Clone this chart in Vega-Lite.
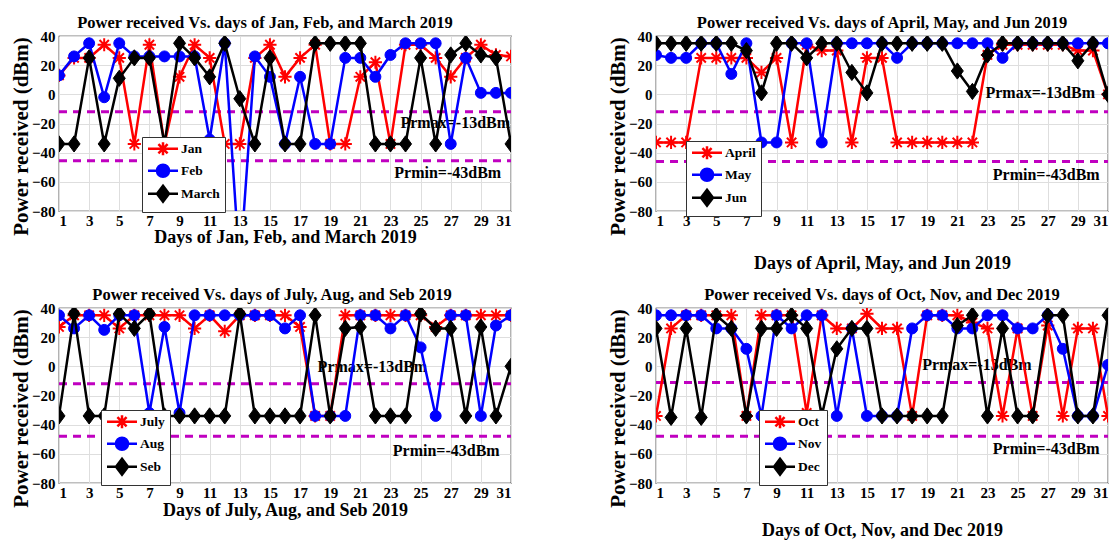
{
  "$schema": "https://vega.github.io/schema/vega-lite/v6.json",
  "background": "#FFFFFF",
  "padding": {"left": 9, "top": 13, "right": 2, "bottom": 2},
  "columns": 2,
  "spacing": {"row": 12, "column": 92},
  "resolve": {"scale": {"color": "independent"}},
  "datasets": {
    "t1": [{"day": 1, "day2": 31, "power": -12}, {"day": 1, "day2": 31, "power": -45.5}],
    "t2": [{"day": 1, "day2": 31, "power": -12}, {"day": 1, "day2": 31, "power": -46}],
    "t3": [{"day": 1, "day2": 31, "power": -12}, {"day": 1, "day2": 31, "power": -48}],
    "t4": [{"day": 1, "day2": 31, "power": -11}, {"day": 1, "day2": 31, "power": -48}],
    "a1": [{"day": 27.3, "power": -19.5, "label": "Prmax=-13dBm"}, {"day": 26.8, "power": -54, "label": "Prmin=-43dBm"}],
    "a2": [{"day": 26.5, "power": 1, "label": "Prmax=-13dBm"}, {"day": 26.9, "power": -55, "label": "Prmin=-43dBm"}],
    "a3": [{"day": 21.8, "power": -0.5, "label": "Prmax=-13dBm"}, {"day": 26.7, "power": -58, "label": "Prmin=-43dBm"}],
    "a4": [{"day": 22.3, "power": 0.7, "label": "Prmax=-13dBm"}, {"day": 26.9, "power": -56.5, "label": "Prmin=-43dBm"}],
    "p1": [
      {"day":1,"month":"Jan","power":13},{"day":2,"month":"Jan","power":25},{"day":3,"month":"Jan","power":25},{"day":4,"month":"Jan","power":34},{"day":5,"month":"Jan","power":25},{"day":6,"month":"Jan","power":-34},{"day":7,"month":"Jan","power":34},{"day":8,"month":"Jan","power":-34},{"day":9,"month":"Jan","power":12},{"day":10,"month":"Jan","power":34},{"day":11,"month":"Jan","power":25},{"day":12,"month":"Jan","power":-34},{"day":13,"month":"Jan","power":-34},{"day":14,"month":"Jan","power":25},{"day":15,"month":"Jan","power":34},{"day":16,"month":"Jan","power":12},{"day":17,"month":"Jan","power":25},{"day":18,"month":"Jan","power":34},{"day":19,"month":"Jan","power":-34},{"day":20,"month":"Jan","power":-34},{"day":21,"month":"Jan","power":12},{"day":22,"month":"Jan","power":22},{"day":23,"month":"Jan","power":-34},{"day":24,"month":"Jan","power":34},{"day":25,"month":"Jan","power":34},{"day":26,"month":"Jan","power":25},{"day":27,"month":"Jan","power":12},{"day":28,"month":"Jan","power":25},{"day":29,"month":"Jan","power":34},{"day":30,"month":"Jan","power":27},{"day":31,"month":"Jan","power":26},
      {"day":1,"month":"Feb","power":13},{"day":2,"month":"Feb","power":26},{"day":3,"month":"Feb","power":35},{"day":4,"month":"Feb","power":-2},{"day":5,"month":"Feb","power":35},{"day":6,"month":"Feb","power":26},{"day":7,"month":"Feb","power":26},{"day":8,"month":"Feb","power":26},{"day":9,"month":"Feb","power":26},{"day":10,"month":"Feb","power":26},{"day":11,"month":"Feb","power":-31},{"day":12,"month":"Feb","power":35},{"day":13,"month":"Feb","power":-120},{"day":14,"month":"Feb","power":26},{"day":15,"month":"Feb","power":12},{"day":16,"month":"Feb","power":-34},{"day":17,"month":"Feb","power":12},{"day":18,"month":"Feb","power":-34},{"day":19,"month":"Feb","power":-34},{"day":20,"month":"Feb","power":25},{"day":21,"month":"Feb","power":25},{"day":22,"month":"Feb","power":12},{"day":23,"month":"Feb","power":27},{"day":24,"month":"Feb","power":35},{"day":25,"month":"Feb","power":35},{"day":26,"month":"Feb","power":35},{"day":27,"month":"Feb","power":-34},{"day":28,"month":"Feb","power":25},{"day":29,"month":"Feb","power":1},{"day":30,"month":"Feb","power":1},{"day":31,"month":"Feb","power":1},
      {"day":1,"month":"March","power":-34},{"day":2,"month":"March","power":-34},{"day":3,"month":"March","power":25},{"day":4,"month":"March","power":-34},{"day":5,"month":"March","power":11},{"day":6,"month":"March","power":25},{"day":7,"month":"March","power":25},{"day":8,"month":"March","power":-34},{"day":9,"month":"March","power":35},{"day":10,"month":"March","power":25},{"day":11,"month":"March","power":12},{"day":12,"month":"March","power":35},{"day":13,"month":"March","power":-3},{"day":14,"month":"March","power":-34},{"day":15,"month":"March","power":25},{"day":16,"month":"March","power":-34},{"day":17,"month":"March","power":-34},{"day":18,"month":"March","power":35},{"day":19,"month":"March","power":35},{"day":20,"month":"March","power":35},{"day":21,"month":"March","power":35},{"day":22,"month":"March","power":-34},{"day":23,"month":"March","power":-34},{"day":24,"month":"March","power":-34},{"day":25,"month":"March","power":25},{"day":26,"month":"March","power":-34},{"day":27,"month":"March","power":27},{"day":28,"month":"March","power":35},{"day":29,"month":"March","power":27},{"day":30,"month":"March","power":25},{"day":31,"month":"March","power":-34}
    ],
    "p2": [
      {"day":1,"month":"April","power":-33},{"day":2,"month":"April","power":-33},{"day":3,"month":"April","power":-33},{"day":4,"month":"April","power":25},{"day":5,"month":"April","power":25},{"day":6,"month":"April","power":25},{"day":7,"month":"April","power":25},{"day":8,"month":"April","power":15},{"day":9,"month":"April","power":25},{"day":10,"month":"April","power":-33},{"day":11,"month":"April","power":34},{"day":12,"month":"April","power":30},{"day":13,"month":"April","power":30},{"day":14,"month":"April","power":-33},{"day":15,"month":"April","power":25},{"day":16,"month":"April","power":25},{"day":17,"month":"April","power":-33},{"day":18,"month":"April","power":-33},{"day":19,"month":"April","power":-33},{"day":20,"month":"April","power":-33},{"day":21,"month":"April","power":-33},{"day":22,"month":"April","power":-33},{"day":23,"month":"April","power":27},{"day":24,"month":"April","power":34},{"day":25,"month":"April","power":34},{"day":26,"month":"April","power":34},{"day":27,"month":"April","power":34},{"day":28,"month":"April","power":34},{"day":29,"month":"April","power":30},{"day":30,"month":"April","power":30},{"day":31,"month":"April","power":0},
      {"day":1,"month":"May","power":27},{"day":2,"month":"May","power":25},{"day":3,"month":"May","power":25},{"day":4,"month":"May","power":35},{"day":5,"month":"May","power":35},{"day":6,"month":"May","power":14},{"day":7,"month":"May","power":35},{"day":8,"month":"May","power":-33},{"day":9,"month":"May","power":-33},{"day":10,"month":"May","power":35},{"day":11,"month":"May","power":35},{"day":12,"month":"May","power":-33},{"day":13,"month":"May","power":35},{"day":14,"month":"May","power":35},{"day":15,"month":"May","power":35},{"day":16,"month":"May","power":35},{"day":17,"month":"May","power":25},{"day":18,"month":"May","power":35},{"day":19,"month":"May","power":35},{"day":20,"month":"May","power":35},{"day":21,"month":"May","power":35},{"day":22,"month":"May","power":35},{"day":23,"month":"May","power":35},{"day":24,"month":"May","power":25},{"day":25,"month":"May","power":35},{"day":26,"month":"May","power":35},{"day":27,"month":"May","power":35},{"day":28,"month":"May","power":35},{"day":29,"month":"May","power":35},{"day":30,"month":"May","power":35},{"day":31,"month":"May","power":35},
      {"day":1,"month":"Jun","power":35},{"day":2,"month":"Jun","power":35},{"day":3,"month":"Jun","power":35},{"day":4,"month":"Jun","power":35},{"day":5,"month":"Jun","power":35},{"day":6,"month":"Jun","power":35},{"day":7,"month":"Jun","power":30},{"day":8,"month":"Jun","power":1},{"day":9,"month":"Jun","power":35},{"day":10,"month":"Jun","power":35},{"day":11,"month":"Jun","power":25},{"day":12,"month":"Jun","power":35},{"day":13,"month":"Jun","power":35},{"day":14,"month":"Jun","power":15},{"day":15,"month":"Jun","power":1},{"day":16,"month":"Jun","power":35},{"day":17,"month":"Jun","power":35},{"day":18,"month":"Jun","power":35},{"day":19,"month":"Jun","power":35},{"day":20,"month":"Jun","power":35},{"day":21,"month":"Jun","power":16},{"day":22,"month":"Jun","power":2},{"day":23,"month":"Jun","power":27},{"day":24,"month":"Jun","power":35},{"day":25,"month":"Jun","power":35},{"day":26,"month":"Jun","power":35},{"day":27,"month":"Jun","power":35},{"day":28,"month":"Jun","power":35},{"day":29,"month":"Jun","power":23},{"day":30,"month":"Jun","power":35},{"day":31,"month":"Jun","power":0}
    ],
    "p3": [
      {"day":1,"month":"July","power":27},{"day":2,"month":"July","power":35},{"day":3,"month":"July","power":35},{"day":4,"month":"July","power":35},{"day":5,"month":"July","power":26},{"day":6,"month":"July","power":35},{"day":7,"month":"July","power":35},{"day":8,"month":"July","power":35},{"day":9,"month":"July","power":35},{"day":10,"month":"July","power":26},{"day":11,"month":"July","power":35},{"day":12,"month":"July","power":24},{"day":13,"month":"July","power":35},{"day":14,"month":"July","power":35},{"day":15,"month":"July","power":35},{"day":16,"month":"July","power":35},{"day":17,"month":"July","power":27},{"day":18,"month":"July","power":-34},{"day":19,"month":"July","power":-34},{"day":20,"month":"July","power":35},{"day":21,"month":"July","power":35},{"day":22,"month":"July","power":35},{"day":23,"month":"July","power":35},{"day":24,"month":"July","power":35},{"day":25,"month":"July","power":35},{"day":26,"month":"July","power":27},{"day":27,"month":"July","power":35},{"day":28,"month":"July","power":35},{"day":29,"month":"July","power":35},{"day":30,"month":"July","power":35},{"day":31,"month":"July","power":35},
      {"day":1,"month":"Aug","power":35},{"day":2,"month":"Aug","power":26},{"day":3,"month":"Aug","power":35},{"day":4,"month":"Aug","power":25},{"day":5,"month":"Aug","power":35},{"day":6,"month":"Aug","power":35},{"day":7,"month":"Aug","power":-32},{"day":8,"month":"Aug","power":27},{"day":9,"month":"Aug","power":-32},{"day":10,"month":"Aug","power":35},{"day":11,"month":"Aug","power":35},{"day":12,"month":"Aug","power":35},{"day":13,"month":"Aug","power":35},{"day":14,"month":"Aug","power":35},{"day":15,"month":"Aug","power":35},{"day":16,"month":"Aug","power":26},{"day":17,"month":"Aug","power":35},{"day":18,"month":"Aug","power":-34},{"day":19,"month":"Aug","power":-34},{"day":20,"month":"Aug","power":-34},{"day":21,"month":"Aug","power":35},{"day":22,"month":"Aug","power":35},{"day":23,"month":"Aug","power":26},{"day":24,"month":"Aug","power":35},{"day":25,"month":"Aug","power":13},{"day":26,"month":"Aug","power":-34},{"day":27,"month":"Aug","power":35},{"day":28,"month":"Aug","power":35},{"day":29,"month":"Aug","power":-34},{"day":30,"month":"Aug","power":28},{"day":31,"month":"Aug","power":35},
      {"day":1,"month":"Seb","power":-34},{"day":2,"month":"Seb","power":36},{"day":3,"month":"Seb","power":-34},{"day":4,"month":"Seb","power":-34},{"day":5,"month":"Seb","power":36},{"day":6,"month":"Seb","power":26},{"day":7,"month":"Seb","power":36},{"day":8,"month":"Seb","power":-34},{"day":9,"month":"Seb","power":-34},{"day":10,"month":"Seb","power":-34},{"day":11,"month":"Seb","power":-34},{"day":12,"month":"Seb","power":-34},{"day":13,"month":"Seb","power":36},{"day":14,"month":"Seb","power":-34},{"day":15,"month":"Seb","power":-34},{"day":16,"month":"Seb","power":-34},{"day":17,"month":"Seb","power":-34},{"day":18,"month":"Seb","power":35},{"day":19,"month":"Seb","power":-34},{"day":20,"month":"Seb","power":26},{"day":21,"month":"Seb","power":27},{"day":22,"month":"Seb","power":-34},{"day":23,"month":"Seb","power":-34},{"day":24,"month":"Seb","power":-34},{"day":25,"month":"Seb","power":36},{"day":26,"month":"Seb","power":26},{"day":27,"month":"Seb","power":26},{"day":28,"month":"Seb","power":-34},{"day":29,"month":"Seb","power":27},{"day":30,"month":"Seb","power":-34},{"day":31,"month":"Seb","power":0}
    ],
    "p4": [
      {"day":1,"month":"Oct","power":-34},{"day":2,"month":"Oct","power":26},{"day":3,"month":"Oct","power":35},{"day":4,"month":"Oct","power":35},{"day":5,"month":"Oct","power":35},{"day":6,"month":"Oct","power":35},{"day":7,"month":"Oct","power":-34},{"day":8,"month":"Oct","power":35},{"day":9,"month":"Oct","power":35},{"day":10,"month":"Oct","power":35},{"day":11,"month":"Oct","power":-32},{"day":12,"month":"Oct","power":35},{"day":13,"month":"Oct","power":26},{"day":14,"month":"Oct","power":26},{"day":15,"month":"Oct","power":36},{"day":16,"month":"Oct","power":26},{"day":17,"month":"Oct","power":26},{"day":18,"month":"Oct","power":-34},{"day":19,"month":"Oct","power":35},{"day":20,"month":"Oct","power":35},{"day":21,"month":"Oct","power":35},{"day":22,"month":"Oct","power":30},{"day":23,"month":"Oct","power":26},{"day":24,"month":"Oct","power":-34},{"day":25,"month":"Oct","power":26},{"day":26,"month":"Oct","power":-34},{"day":27,"month":"Oct","power":28},{"day":28,"month":"Oct","power":-34},{"day":29,"month":"Oct","power":26},{"day":30,"month":"Oct","power":26},{"day":31,"month":"Oct","power":-34},
      {"day":1,"month":"Nov","power":35},{"day":2,"month":"Nov","power":35},{"day":3,"month":"Nov","power":35},{"day":4,"month":"Nov","power":35},{"day":5,"month":"Nov","power":26},{"day":6,"month":"Nov","power":26},{"day":7,"month":"Nov","power":12},{"day":8,"month":"Nov","power":-34},{"day":9,"month":"Nov","power":35},{"day":10,"month":"Nov","power":26},{"day":11,"month":"Nov","power":35},{"day":12,"month":"Nov","power":35},{"day":13,"month":"Nov","power":-34},{"day":14,"month":"Nov","power":26},{"day":15,"month":"Nov","power":-34},{"day":16,"month":"Nov","power":-34},{"day":17,"month":"Nov","power":-34},{"day":18,"month":"Nov","power":26},{"day":19,"month":"Nov","power":35},{"day":20,"month":"Nov","power":35},{"day":21,"month":"Nov","power":26},{"day":22,"month":"Nov","power":26},{"day":23,"month":"Nov","power":35},{"day":24,"month":"Nov","power":35},{"day":25,"month":"Nov","power":26},{"day":26,"month":"Nov","power":26},{"day":27,"month":"Nov","power":35},{"day":28,"month":"Nov","power":12},{"day":29,"month":"Nov","power":-34},{"day":30,"month":"Nov","power":-34},{"day":31,"month":"Nov","power":1},
      {"day":1,"month":"Dec","power":26},{"day":2,"month":"Dec","power":-35},{"day":3,"month":"Dec","power":26},{"day":4,"month":"Dec","power":-35},{"day":5,"month":"Dec","power":35},{"day":6,"month":"Dec","power":26},{"day":7,"month":"Dec","power":-34},{"day":8,"month":"Dec","power":26},{"day":9,"month":"Dec","power":26},{"day":10,"month":"Dec","power":35},{"day":11,"month":"Dec","power":26},{"day":12,"month":"Dec","power":-34},{"day":13,"month":"Dec","power":12},{"day":14,"month":"Dec","power":26},{"day":15,"month":"Dec","power":26},{"day":16,"month":"Dec","power":-34},{"day":17,"month":"Dec","power":-34},{"day":18,"month":"Dec","power":-34},{"day":19,"month":"Dec","power":-34},{"day":20,"month":"Dec","power":-34},{"day":21,"month":"Dec","power":28},{"day":22,"month":"Dec","power":35},{"day":23,"month":"Dec","power":-34},{"day":24,"month":"Dec","power":26},{"day":25,"month":"Dec","power":-34},{"day":26,"month":"Dec","power":-34},{"day":27,"month":"Dec","power":35},{"day":28,"month":"Dec","power":35},{"day":29,"month":"Dec","power":-34},{"day":30,"month":"Dec","power":-34},{"day":31,"month":"Dec","power":35}
    ]
  },
  "concat": [
    {
      "width": 452, "height": 175,
      "title": {"text": "Power received Vs. days of Jan, Feb, and March 2019", "dx": -20},
      "data": {"name": "p1"},
      "encoding": {
        "x": {"field": "day", "type": "quantitative", "scale": {"domain": [1, 31], "nice": false, "zero": false}, "axis": {"title": "Days of Jan, Feb, and March 2019", "values": [1,3,5,7,9,11,13,15,17,19,21,23,25,27,29,31], "titlePadding": 0}},
        "y": {"field": "power", "type": "quantitative", "scale": {"domain": [-80, 40], "nice": false, "zero": false}, "axis": {"title": "Power received (dBm)", "values": [-80,-60,-40,-20,0,20,40]}}
      },
      "layer": [
        {"data": {"name": "t1"}, "mark": {"type": "rule", "color": "#C000C0", "strokeWidth": 3, "strokeDash": [8, 6]}, "encoding": {"x2": {"field": "day2"}}},
        {"data": {"name": "a1"}, "mark": {"type": "text", "font": "Liberation Serif", "fontSize": 16, "fontWeight": "bold", "color": "#000000"}, "encoding": {"text": {"field": "label"}}},
        {"transform": [{"filter": "datum.month == 'Jan'"}], "mark": {"type": "line", "strokeWidth": 2.5, "clip": true}, "encoding": {"color": {"field": "month", "type": "nominal", "scale": {"domain": ["Jan","Feb","March"], "range": ["#FF0000","#0000FF","#000000"]}, "legend": {"title": null, "orient": "none", "legendX": 83, "legendY": 101, "fillColor": "#FFFFFF", "strokeColor": "#333333", "padding": 5, "rowPadding": -2, "labelFont": "Liberation Serif", "labelFontSize": 13.5, "labelFontWeight": "bold", "labelColor": "#000000", "labelOffset": 20.5, "symbolSize": 100, "symbolStrokeWidth": 2.5, "encode": {"symbols": {"update": {"shape": {"signal": "indexof(['Jan','April','July','Oct'], datum.value) >= 0 ? 'M-1.15,0L4.85,0M1.85,-1.3L1.85,1.3M0.93,-0.92L2.77,0.92M0.93,0.92L2.77,-0.92' : indexof(['Feb','May','Aug','Nov'], datum.value) >= 0 ? 'M-1.15,0L4.85,0M0.65,0A1.2,1.2 0 1,0 3.05,0A1.2,1.2 0 1,0 0.65,0Z' : 'M-1.15,0L4.85,0M1.85,-1.6L3.05,0L1.85,1.6L0.65,0Z'"}, "fill": {"signal": "indexof(['Jan','April','July','Oct'], datum.value) >= 0 ? 'transparent' : indexof(['Feb','May','Aug','Nov'], datum.value) >= 0 ? '#0000FF' : '#000000'"}, "stroke": {"signal": "indexof(['Jan','April','July','Oct'], datum.value) >= 0 ? '#FF0000' : indexof(['Feb','May','Aug','Nov'], datum.value) >= 0 ? '#0000FF' : '#000000'"}, "strokeWidth": {"value": 2.5}, "opacity": {"value": 1}, "fillOpacity": {"value": 1}, "strokeOpacity": {"value": 1}}}}}}}},
        {"transform": [{"filter": "datum.month == 'Jan'"}], "mark": {"type": "point", "shape": "M-1.1,0L1.1,0M0,-1.1L0,1.1M-0.78,-0.78L0.78,0.78M-0.78,0.78L0.78,-0.78", "size": 144, "filled": false, "stroke": "#FF0000", "strokeWidth": 2, "opacity": 1, "clip": true}},
        {"transform": [{"filter": "datum.month == 'Feb'"}], "mark": {"type": "line", "strokeWidth": 2.5, "clip": true}, "encoding": {"color": {"field": "month", "type": "nominal", "scale": {"domain": ["Jan","Feb","March"], "range": ["#FF0000","#0000FF","#000000"]}, "legend": {"title": null, "orient": "none", "legendX": 83, "legendY": 101, "fillColor": "#FFFFFF", "strokeColor": "#333333", "padding": 5, "rowPadding": -2, "labelFont": "Liberation Serif", "labelFontSize": 13.5, "labelFontWeight": "bold", "labelColor": "#000000", "labelOffset": 20.5, "symbolSize": 100, "symbolStrokeWidth": 2.5, "encode": {"symbols": {"update": {"shape": {"signal": "indexof(['Jan','April','July','Oct'], datum.value) >= 0 ? 'M-1.15,0L4.85,0M1.85,-1.3L1.85,1.3M0.93,-0.92L2.77,0.92M0.93,0.92L2.77,-0.92' : indexof(['Feb','May','Aug','Nov'], datum.value) >= 0 ? 'M-1.15,0L4.85,0M0.65,0A1.2,1.2 0 1,0 3.05,0A1.2,1.2 0 1,0 0.65,0Z' : 'M-1.15,0L4.85,0M1.85,-1.6L3.05,0L1.85,1.6L0.65,0Z'"}, "fill": {"signal": "indexof(['Jan','April','July','Oct'], datum.value) >= 0 ? 'transparent' : indexof(['Feb','May','Aug','Nov'], datum.value) >= 0 ? '#0000FF' : '#000000'"}, "stroke": {"signal": "indexof(['Jan','April','July','Oct'], datum.value) >= 0 ? '#FF0000' : indexof(['Feb','May','Aug','Nov'], datum.value) >= 0 ? '#0000FF' : '#000000'"}, "strokeWidth": {"value": 2.5}, "opacity": {"value": 1}, "fillOpacity": {"value": 1}, "strokeOpacity": {"value": 1}}}}}}}},
        {"transform": [{"filter": "datum.month == 'Feb'"}], "mark": {"type": "point", "shape": "circle", "size": 120, "filled": true, "fill": "#0000FF", "stroke": "#0000FF", "strokeWidth": 1, "opacity": 1, "clip": true}},
        {"transform": [{"filter": "datum.month == 'March'"}], "mark": {"type": "line", "strokeWidth": 2.5, "clip": true}, "encoding": {"color": {"field": "month", "type": "nominal", "scale": {"domain": ["Jan","Feb","March"], "range": ["#FF0000","#0000FF","#000000"]}, "legend": {"title": null, "orient": "none", "legendX": 83, "legendY": 101, "fillColor": "#FFFFFF", "strokeColor": "#333333", "padding": 5, "rowPadding": -2, "labelFont": "Liberation Serif", "labelFontSize": 13.5, "labelFontWeight": "bold", "labelColor": "#000000", "labelOffset": 20.5, "symbolSize": 100, "symbolStrokeWidth": 2.5, "encode": {"symbols": {"update": {"shape": {"signal": "indexof(['Jan','April','July','Oct'], datum.value) >= 0 ? 'M-1.15,0L4.85,0M1.85,-1.3L1.85,1.3M0.93,-0.92L2.77,0.92M0.93,0.92L2.77,-0.92' : indexof(['Feb','May','Aug','Nov'], datum.value) >= 0 ? 'M-1.15,0L4.85,0M0.65,0A1.2,1.2 0 1,0 3.05,0A1.2,1.2 0 1,0 0.65,0Z' : 'M-1.15,0L4.85,0M1.85,-1.6L3.05,0L1.85,1.6L0.65,0Z'"}, "fill": {"signal": "indexof(['Jan','April','July','Oct'], datum.value) >= 0 ? 'transparent' : indexof(['Feb','May','Aug','Nov'], datum.value) >= 0 ? '#0000FF' : '#000000'"}, "stroke": {"signal": "indexof(['Jan','April','July','Oct'], datum.value) >= 0 ? '#FF0000' : indexof(['Feb','May','Aug','Nov'], datum.value) >= 0 ? '#0000FF' : '#000000'"}, "strokeWidth": {"value": 2.5}, "opacity": {"value": 1}, "fillOpacity": {"value": 1}, "strokeOpacity": {"value": 1}}}}}}}},
        {"transform": [{"filter": "datum.month == 'March'"}], "mark": {"type": "point", "shape": "M0,-1.35L1,0L0,1.35L-1,0Z", "size": 144, "filled": true, "fill": "#000000", "stroke": "#000000", "strokeWidth": 1, "opacity": 1, "clip": true}}
      ]
    },
    {
      "width": 452, "height": 175,
      "title": {"text": "Power received Vs. days of April, May, and Jun 2019"},
      "data": {"name": "p2"},
      "encoding": {
        "x": {"field": "day", "type": "quantitative", "scale": {"domain": [1, 31], "nice": false, "zero": false}, "axis": {"title": "Days of April, May, and Jun 2019", "values": [1,3,5,7,9,11,13,15,17,19,21,23,25,27,29,31], "titlePadding": 26}},
        "y": {"field": "power", "type": "quantitative", "scale": {"domain": [-80, 40], "nice": false, "zero": false}, "axis": {"title": "Power received (dBm)", "values": [-80,-60,-40,-20,0,20,40]}}
      },
      "layer": [
        {"data": {"name": "t2"}, "mark": {"type": "rule", "color": "#C000C0", "strokeWidth": 3, "strokeDash": [8, 6]}, "encoding": {"x2": {"field": "day2"}}},
        {"data": {"name": "a2"}, "mark": {"type": "text", "font": "Liberation Serif", "fontSize": 16, "fontWeight": "bold", "color": "#000000"}, "encoding": {"text": {"field": "label"}}},
        {"transform": [{"filter": "datum.month == 'April'"}], "mark": {"type": "line", "strokeWidth": 2.5, "clip": true}, "encoding": {"color": {"field": "month", "type": "nominal", "scale": {"domain": ["April","May","Jun"], "range": ["#FF0000","#0000FF","#000000"]}, "legend": {"title": null, "orient": "none", "legendX": 30, "legendY": 105, "fillColor": "#FFFFFF", "strokeColor": "#333333", "padding": 5, "rowPadding": -2, "labelFont": "Liberation Serif", "labelFontSize": 13.5, "labelFontWeight": "bold", "labelColor": "#000000", "labelOffset": 20.5, "symbolSize": 100, "symbolStrokeWidth": 2.5, "encode": {"symbols": {"update": {"shape": {"signal": "indexof(['Jan','April','July','Oct'], datum.value) >= 0 ? 'M-1.15,0L4.85,0M1.85,-1.3L1.85,1.3M0.93,-0.92L2.77,0.92M0.93,0.92L2.77,-0.92' : indexof(['Feb','May','Aug','Nov'], datum.value) >= 0 ? 'M-1.15,0L4.85,0M0.65,0A1.2,1.2 0 1,0 3.05,0A1.2,1.2 0 1,0 0.65,0Z' : 'M-1.15,0L4.85,0M1.85,-1.6L3.05,0L1.85,1.6L0.65,0Z'"}, "fill": {"signal": "indexof(['Jan','April','July','Oct'], datum.value) >= 0 ? 'transparent' : indexof(['Feb','May','Aug','Nov'], datum.value) >= 0 ? '#0000FF' : '#000000'"}, "stroke": {"signal": "indexof(['Jan','April','July','Oct'], datum.value) >= 0 ? '#FF0000' : indexof(['Feb','May','Aug','Nov'], datum.value) >= 0 ? '#0000FF' : '#000000'"}, "strokeWidth": {"value": 2.5}, "opacity": {"value": 1}, "fillOpacity": {"value": 1}, "strokeOpacity": {"value": 1}}}}}}}},
        {"transform": [{"filter": "datum.month == 'April'"}], "mark": {"type": "point", "shape": "M-1.1,0L1.1,0M0,-1.1L0,1.1M-0.78,-0.78L0.78,0.78M-0.78,0.78L0.78,-0.78", "size": 144, "filled": false, "stroke": "#FF0000", "strokeWidth": 2, "opacity": 1, "clip": true}},
        {"transform": [{"filter": "datum.month == 'May'"}], "mark": {"type": "line", "strokeWidth": 2.5, "clip": true}, "encoding": {"color": {"field": "month", "type": "nominal", "scale": {"domain": ["April","May","Jun"], "range": ["#FF0000","#0000FF","#000000"]}, "legend": {"title": null, "orient": "none", "legendX": 30, "legendY": 105, "fillColor": "#FFFFFF", "strokeColor": "#333333", "padding": 5, "rowPadding": -2, "labelFont": "Liberation Serif", "labelFontSize": 13.5, "labelFontWeight": "bold", "labelColor": "#000000", "labelOffset": 20.5, "symbolSize": 100, "symbolStrokeWidth": 2.5, "encode": {"symbols": {"update": {"shape": {"signal": "indexof(['Jan','April','July','Oct'], datum.value) >= 0 ? 'M-1.15,0L4.85,0M1.85,-1.3L1.85,1.3M0.93,-0.92L2.77,0.92M0.93,0.92L2.77,-0.92' : indexof(['Feb','May','Aug','Nov'], datum.value) >= 0 ? 'M-1.15,0L4.85,0M0.65,0A1.2,1.2 0 1,0 3.05,0A1.2,1.2 0 1,0 0.65,0Z' : 'M-1.15,0L4.85,0M1.85,-1.6L3.05,0L1.85,1.6L0.65,0Z'"}, "fill": {"signal": "indexof(['Jan','April','July','Oct'], datum.value) >= 0 ? 'transparent' : indexof(['Feb','May','Aug','Nov'], datum.value) >= 0 ? '#0000FF' : '#000000'"}, "stroke": {"signal": "indexof(['Jan','April','July','Oct'], datum.value) >= 0 ? '#FF0000' : indexof(['Feb','May','Aug','Nov'], datum.value) >= 0 ? '#0000FF' : '#000000'"}, "strokeWidth": {"value": 2.5}, "opacity": {"value": 1}, "fillOpacity": {"value": 1}, "strokeOpacity": {"value": 1}}}}}}}},
        {"transform": [{"filter": "datum.month == 'May'"}], "mark": {"type": "point", "shape": "circle", "size": 120, "filled": true, "fill": "#0000FF", "stroke": "#0000FF", "strokeWidth": 1, "opacity": 1, "clip": true}},
        {"transform": [{"filter": "datum.month == 'Jun'"}], "mark": {"type": "line", "strokeWidth": 2.5, "clip": true}, "encoding": {"color": {"field": "month", "type": "nominal", "scale": {"domain": ["April","May","Jun"], "range": ["#FF0000","#0000FF","#000000"]}, "legend": {"title": null, "orient": "none", "legendX": 30, "legendY": 105, "fillColor": "#FFFFFF", "strokeColor": "#333333", "padding": 5, "rowPadding": -2, "labelFont": "Liberation Serif", "labelFontSize": 13.5, "labelFontWeight": "bold", "labelColor": "#000000", "labelOffset": 20.5, "symbolSize": 100, "symbolStrokeWidth": 2.5, "encode": {"symbols": {"update": {"shape": {"signal": "indexof(['Jan','April','July','Oct'], datum.value) >= 0 ? 'M-1.15,0L4.85,0M1.85,-1.3L1.85,1.3M0.93,-0.92L2.77,0.92M0.93,0.92L2.77,-0.92' : indexof(['Feb','May','Aug','Nov'], datum.value) >= 0 ? 'M-1.15,0L4.85,0M0.65,0A1.2,1.2 0 1,0 3.05,0A1.2,1.2 0 1,0 0.65,0Z' : 'M-1.15,0L4.85,0M1.85,-1.6L3.05,0L1.85,1.6L0.65,0Z'"}, "fill": {"signal": "indexof(['Jan','April','July','Oct'], datum.value) >= 0 ? 'transparent' : indexof(['Feb','May','Aug','Nov'], datum.value) >= 0 ? '#0000FF' : '#000000'"}, "stroke": {"signal": "indexof(['Jan','April','July','Oct'], datum.value) >= 0 ? '#FF0000' : indexof(['Feb','May','Aug','Nov'], datum.value) >= 0 ? '#0000FF' : '#000000'"}, "strokeWidth": {"value": 2.5}, "opacity": {"value": 1}, "fillOpacity": {"value": 1}, "strokeOpacity": {"value": 1}}}}}}}},
        {"transform": [{"filter": "datum.month == 'Jun'"}], "mark": {"type": "point", "shape": "M0,-1.35L1,0L0,1.35L-1,0Z", "size": 144, "filled": true, "fill": "#000000", "stroke": "#000000", "strokeWidth": 1, "opacity": 1, "clip": true}}
      ]
    },
    {
      "width": 452, "height": 175,
      "title": {"text": "Power received Vs. days of July, Aug, and Seb 2019", "dx": -13},
      "data": {"name": "p3"},
      "encoding": {
        "x": {"field": "day", "type": "quantitative", "scale": {"domain": [1, 31], "nice": false, "zero": false}, "axis": {"title": "Days of July, Aug, and Seb 2019", "values": [1,3,5,7,9,11,13,15,17,19,21,23,25,27,29,31], "titlePadding": 1}},
        "y": {"field": "power", "type": "quantitative", "scale": {"domain": [-80, 40], "nice": false, "zero": false}, "axis": {"title": "Power received (dBm)", "values": [-80,-60,-40,-20,0,20,40]}}
      },
      "layer": [
        {"data": {"name": "t3"}, "mark": {"type": "rule", "color": "#C000C0", "strokeWidth": 3, "strokeDash": [8, 6]}, "encoding": {"x2": {"field": "day2"}}},
        {"data": {"name": "a3"}, "mark": {"type": "text", "font": "Liberation Serif", "fontSize": 16, "fontWeight": "bold", "color": "#000000"}, "encoding": {"text": {"field": "label"}}},
        {"transform": [{"filter": "datum.month == 'July'"}], "mark": {"type": "line", "strokeWidth": 2.5, "clip": true}, "encoding": {"color": {"field": "month", "type": "nominal", "scale": {"domain": ["July","Aug","Seb"], "range": ["#FF0000","#0000FF","#000000"]}, "legend": {"title": null, "orient": "none", "legendX": 42, "legendY": 102, "fillColor": "#FFFFFF", "strokeColor": "#333333", "padding": 5, "rowPadding": -2, "labelFont": "Liberation Serif", "labelFontSize": 13.5, "labelFontWeight": "bold", "labelColor": "#000000", "labelOffset": 20.5, "symbolSize": 100, "symbolStrokeWidth": 2.5, "encode": {"symbols": {"update": {"shape": {"signal": "indexof(['Jan','April','July','Oct'], datum.value) >= 0 ? 'M-1.15,0L4.85,0M1.85,-1.3L1.85,1.3M0.93,-0.92L2.77,0.92M0.93,0.92L2.77,-0.92' : indexof(['Feb','May','Aug','Nov'], datum.value) >= 0 ? 'M-1.15,0L4.85,0M0.65,0A1.2,1.2 0 1,0 3.05,0A1.2,1.2 0 1,0 0.65,0Z' : 'M-1.15,0L4.85,0M1.85,-1.6L3.05,0L1.85,1.6L0.65,0Z'"}, "fill": {"signal": "indexof(['Jan','April','July','Oct'], datum.value) >= 0 ? 'transparent' : indexof(['Feb','May','Aug','Nov'], datum.value) >= 0 ? '#0000FF' : '#000000'"}, "stroke": {"signal": "indexof(['Jan','April','July','Oct'], datum.value) >= 0 ? '#FF0000' : indexof(['Feb','May','Aug','Nov'], datum.value) >= 0 ? '#0000FF' : '#000000'"}, "strokeWidth": {"value": 2.5}, "opacity": {"value": 1}, "fillOpacity": {"value": 1}, "strokeOpacity": {"value": 1}}}}}}}},
        {"transform": [{"filter": "datum.month == 'July'"}], "mark": {"type": "point", "shape": "M-1.1,0L1.1,0M0,-1.1L0,1.1M-0.78,-0.78L0.78,0.78M-0.78,0.78L0.78,-0.78", "size": 144, "filled": false, "stroke": "#FF0000", "strokeWidth": 2, "opacity": 1, "clip": true}},
        {"transform": [{"filter": "datum.month == 'Aug'"}], "mark": {"type": "line", "strokeWidth": 2.5, "clip": true}, "encoding": {"color": {"field": "month", "type": "nominal", "scale": {"domain": ["July","Aug","Seb"], "range": ["#FF0000","#0000FF","#000000"]}, "legend": {"title": null, "orient": "none", "legendX": 42, "legendY": 102, "fillColor": "#FFFFFF", "strokeColor": "#333333", "padding": 5, "rowPadding": -2, "labelFont": "Liberation Serif", "labelFontSize": 13.5, "labelFontWeight": "bold", "labelColor": "#000000", "labelOffset": 20.5, "symbolSize": 100, "symbolStrokeWidth": 2.5, "encode": {"symbols": {"update": {"shape": {"signal": "indexof(['Jan','April','July','Oct'], datum.value) >= 0 ? 'M-1.15,0L4.85,0M1.85,-1.3L1.85,1.3M0.93,-0.92L2.77,0.92M0.93,0.92L2.77,-0.92' : indexof(['Feb','May','Aug','Nov'], datum.value) >= 0 ? 'M-1.15,0L4.85,0M0.65,0A1.2,1.2 0 1,0 3.05,0A1.2,1.2 0 1,0 0.65,0Z' : 'M-1.15,0L4.85,0M1.85,-1.6L3.05,0L1.85,1.6L0.65,0Z'"}, "fill": {"signal": "indexof(['Jan','April','July','Oct'], datum.value) >= 0 ? 'transparent' : indexof(['Feb','May','Aug','Nov'], datum.value) >= 0 ? '#0000FF' : '#000000'"}, "stroke": {"signal": "indexof(['Jan','April','July','Oct'], datum.value) >= 0 ? '#FF0000' : indexof(['Feb','May','Aug','Nov'], datum.value) >= 0 ? '#0000FF' : '#000000'"}, "strokeWidth": {"value": 2.5}, "opacity": {"value": 1}, "fillOpacity": {"value": 1}, "strokeOpacity": {"value": 1}}}}}}}},
        {"transform": [{"filter": "datum.month == 'Aug'"}], "mark": {"type": "point", "shape": "circle", "size": 120, "filled": true, "fill": "#0000FF", "stroke": "#0000FF", "strokeWidth": 1, "opacity": 1, "clip": true}},
        {"transform": [{"filter": "datum.month == 'Seb'"}], "mark": {"type": "line", "strokeWidth": 2.5, "clip": true}, "encoding": {"color": {"field": "month", "type": "nominal", "scale": {"domain": ["July","Aug","Seb"], "range": ["#FF0000","#0000FF","#000000"]}, "legend": {"title": null, "orient": "none", "legendX": 42, "legendY": 102, "fillColor": "#FFFFFF", "strokeColor": "#333333", "padding": 5, "rowPadding": -2, "labelFont": "Liberation Serif", "labelFontSize": 13.5, "labelFontWeight": "bold", "labelColor": "#000000", "labelOffset": 20.5, "symbolSize": 100, "symbolStrokeWidth": 2.5, "encode": {"symbols": {"update": {"shape": {"signal": "indexof(['Jan','April','July','Oct'], datum.value) >= 0 ? 'M-1.15,0L4.85,0M1.85,-1.3L1.85,1.3M0.93,-0.92L2.77,0.92M0.93,0.92L2.77,-0.92' : indexof(['Feb','May','Aug','Nov'], datum.value) >= 0 ? 'M-1.15,0L4.85,0M0.65,0A1.2,1.2 0 1,0 3.05,0A1.2,1.2 0 1,0 0.65,0Z' : 'M-1.15,0L4.85,0M1.85,-1.6L3.05,0L1.85,1.6L0.65,0Z'"}, "fill": {"signal": "indexof(['Jan','April','July','Oct'], datum.value) >= 0 ? 'transparent' : indexof(['Feb','May','Aug','Nov'], datum.value) >= 0 ? '#0000FF' : '#000000'"}, "stroke": {"signal": "indexof(['Jan','April','July','Oct'], datum.value) >= 0 ? '#FF0000' : indexof(['Feb','May','Aug','Nov'], datum.value) >= 0 ? '#0000FF' : '#000000'"}, "strokeWidth": {"value": 2.5}, "opacity": {"value": 1}, "fillOpacity": {"value": 1}, "strokeOpacity": {"value": 1}}}}}}}},
        {"transform": [{"filter": "datum.month == 'Seb'"}], "mark": {"type": "point", "shape": "M0,-1.35L1,0L0,1.35L-1,0Z", "size": 144, "filled": true, "fill": "#000000", "stroke": "#000000", "strokeWidth": 1, "opacity": 1, "clip": true}}
      ]
    },
    {
      "width": 452, "height": 175,
      "title": {"text": "Power received Vs. days of Oct, Nov, and Dec 2019"},
      "data": {"name": "p4"},
      "encoding": {
        "x": {"field": "day", "type": "quantitative", "scale": {"domain": [1, 31], "nice": false, "zero": false}, "axis": {"title": "Days of Oct, Nov, and Dec 2019", "values": [1,3,5,7,9,11,13,15,17,19,21,23,25,27,29,31], "titlePadding": 21}},
        "y": {"field": "power", "type": "quantitative", "scale": {"domain": [-80, 40], "nice": false, "zero": false}, "axis": {"title": "Power received (dBm)", "values": [-80,-60,-40,-20,0,20,40]}}
      },
      "layer": [
        {"data": {"name": "t4"}, "mark": {"type": "rule", "color": "#C000C0", "strokeWidth": 3, "strokeDash": [8, 6]}, "encoding": {"x2": {"field": "day2"}}},
        {"data": {"name": "a4"}, "mark": {"type": "text", "font": "Liberation Serif", "fontSize": 16, "fontWeight": "bold", "color": "#000000"}, "encoding": {"text": {"field": "label"}}},
        {"transform": [{"filter": "datum.month == 'Oct'"}], "mark": {"type": "line", "strokeWidth": 2.5, "clip": true}, "encoding": {"color": {"field": "month", "type": "nominal", "scale": {"domain": ["Oct","Nov","Dec"], "range": ["#FF0000","#0000FF","#000000"]}, "legend": {"title": null, "orient": "none", "legendX": 103, "legendY": 102, "fillColor": "#FFFFFF", "strokeColor": "#333333", "padding": 5, "rowPadding": -2, "labelFont": "Liberation Serif", "labelFontSize": 13.5, "labelFontWeight": "bold", "labelColor": "#000000", "labelOffset": 20.5, "symbolSize": 100, "symbolStrokeWidth": 2.5, "encode": {"symbols": {"update": {"shape": {"signal": "indexof(['Jan','April','July','Oct'], datum.value) >= 0 ? 'M-1.15,0L4.85,0M1.85,-1.3L1.85,1.3M0.93,-0.92L2.77,0.92M0.93,0.92L2.77,-0.92' : indexof(['Feb','May','Aug','Nov'], datum.value) >= 0 ? 'M-1.15,0L4.85,0M0.65,0A1.2,1.2 0 1,0 3.05,0A1.2,1.2 0 1,0 0.65,0Z' : 'M-1.15,0L4.85,0M1.85,-1.6L3.05,0L1.85,1.6L0.65,0Z'"}, "fill": {"signal": "indexof(['Jan','April','July','Oct'], datum.value) >= 0 ? 'transparent' : indexof(['Feb','May','Aug','Nov'], datum.value) >= 0 ? '#0000FF' : '#000000'"}, "stroke": {"signal": "indexof(['Jan','April','July','Oct'], datum.value) >= 0 ? '#FF0000' : indexof(['Feb','May','Aug','Nov'], datum.value) >= 0 ? '#0000FF' : '#000000'"}, "strokeWidth": {"value": 2.5}, "opacity": {"value": 1}, "fillOpacity": {"value": 1}, "strokeOpacity": {"value": 1}}}}}}}},
        {"transform": [{"filter": "datum.month == 'Oct'"}], "mark": {"type": "point", "shape": "M-1.1,0L1.1,0M0,-1.1L0,1.1M-0.78,-0.78L0.78,0.78M-0.78,0.78L0.78,-0.78", "size": 144, "filled": false, "stroke": "#FF0000", "strokeWidth": 2, "opacity": 1, "clip": true}},
        {"transform": [{"filter": "datum.month == 'Nov'"}], "mark": {"type": "line", "strokeWidth": 2.5, "clip": true}, "encoding": {"color": {"field": "month", "type": "nominal", "scale": {"domain": ["Oct","Nov","Dec"], "range": ["#FF0000","#0000FF","#000000"]}, "legend": {"title": null, "orient": "none", "legendX": 103, "legendY": 102, "fillColor": "#FFFFFF", "strokeColor": "#333333", "padding": 5, "rowPadding": -2, "labelFont": "Liberation Serif", "labelFontSize": 13.5, "labelFontWeight": "bold", "labelColor": "#000000", "labelOffset": 20.5, "symbolSize": 100, "symbolStrokeWidth": 2.5, "encode": {"symbols": {"update": {"shape": {"signal": "indexof(['Jan','April','July','Oct'], datum.value) >= 0 ? 'M-1.15,0L4.85,0M1.85,-1.3L1.85,1.3M0.93,-0.92L2.77,0.92M0.93,0.92L2.77,-0.92' : indexof(['Feb','May','Aug','Nov'], datum.value) >= 0 ? 'M-1.15,0L4.85,0M0.65,0A1.2,1.2 0 1,0 3.05,0A1.2,1.2 0 1,0 0.65,0Z' : 'M-1.15,0L4.85,0M1.85,-1.6L3.05,0L1.85,1.6L0.65,0Z'"}, "fill": {"signal": "indexof(['Jan','April','July','Oct'], datum.value) >= 0 ? 'transparent' : indexof(['Feb','May','Aug','Nov'], datum.value) >= 0 ? '#0000FF' : '#000000'"}, "stroke": {"signal": "indexof(['Jan','April','July','Oct'], datum.value) >= 0 ? '#FF0000' : indexof(['Feb','May','Aug','Nov'], datum.value) >= 0 ? '#0000FF' : '#000000'"}, "strokeWidth": {"value": 2.5}, "opacity": {"value": 1}, "fillOpacity": {"value": 1}, "strokeOpacity": {"value": 1}}}}}}}},
        {"transform": [{"filter": "datum.month == 'Nov'"}], "mark": {"type": "point", "shape": "circle", "size": 120, "filled": true, "fill": "#0000FF", "stroke": "#0000FF", "strokeWidth": 1, "opacity": 1, "clip": true}},
        {"transform": [{"filter": "datum.month == 'Dec'"}], "mark": {"type": "line", "strokeWidth": 2.5, "clip": true}, "encoding": {"color": {"field": "month", "type": "nominal", "scale": {"domain": ["Oct","Nov","Dec"], "range": ["#FF0000","#0000FF","#000000"]}, "legend": {"title": null, "orient": "none", "legendX": 103, "legendY": 102, "fillColor": "#FFFFFF", "strokeColor": "#333333", "padding": 5, "rowPadding": -2, "labelFont": "Liberation Serif", "labelFontSize": 13.5, "labelFontWeight": "bold", "labelColor": "#000000", "labelOffset": 20.5, "symbolSize": 100, "symbolStrokeWidth": 2.5, "encode": {"symbols": {"update": {"shape": {"signal": "indexof(['Jan','April','July','Oct'], datum.value) >= 0 ? 'M-1.15,0L4.85,0M1.85,-1.3L1.85,1.3M0.93,-0.92L2.77,0.92M0.93,0.92L2.77,-0.92' : indexof(['Feb','May','Aug','Nov'], datum.value) >= 0 ? 'M-1.15,0L4.85,0M0.65,0A1.2,1.2 0 1,0 3.05,0A1.2,1.2 0 1,0 0.65,0Z' : 'M-1.15,0L4.85,0M1.85,-1.6L3.05,0L1.85,1.6L0.65,0Z'"}, "fill": {"signal": "indexof(['Jan','April','July','Oct'], datum.value) >= 0 ? 'transparent' : indexof(['Feb','May','Aug','Nov'], datum.value) >= 0 ? '#0000FF' : '#000000'"}, "stroke": {"signal": "indexof(['Jan','April','July','Oct'], datum.value) >= 0 ? '#FF0000' : indexof(['Feb','May','Aug','Nov'], datum.value) >= 0 ? '#0000FF' : '#000000'"}, "strokeWidth": {"value": 2.5}, "opacity": {"value": 1}, "fillOpacity": {"value": 1}, "strokeOpacity": {"value": 1}}}}}}}},
        {"transform": [{"filter": "datum.month == 'Dec'"}], "mark": {"type": "point", "shape": "M0,-1.35L1,0L0,1.35L-1,0Z", "size": 144, "filled": true, "fill": "#000000", "stroke": "#000000", "strokeWidth": 1, "opacity": 1, "clip": true}}
      ]
    }
  ],
  "config": {
    "font": "Liberation Serif",
    "view": {"stroke": "#000000", "strokeWidth": 1.2},
    "axis": {"labelFont": "Liberation Serif", "labelFontSize": 15, "labelFontWeight": "bold", "labelColor": "#000000", "titleFont": "Liberation Serif", "titleFontWeight": "bold", "titleColor": "#000000", "grid": true, "gridColor": "#DEDEDE", "gridWidth": 1, "domain": false, "ticks": false},
    "axisX": {"titleFontSize": 18, "labelPadding": 2},
    "axisY": {"titleFontSize": 21, "labelPadding": 4, "titlePadding": 0, "titleY": 100},
    "title": {"font": "Liberation Serif", "fontSize": 16.5, "fontWeight": "bold", "color": "#000000", "offset": -2, "anchor": "middle"}
  }
}
